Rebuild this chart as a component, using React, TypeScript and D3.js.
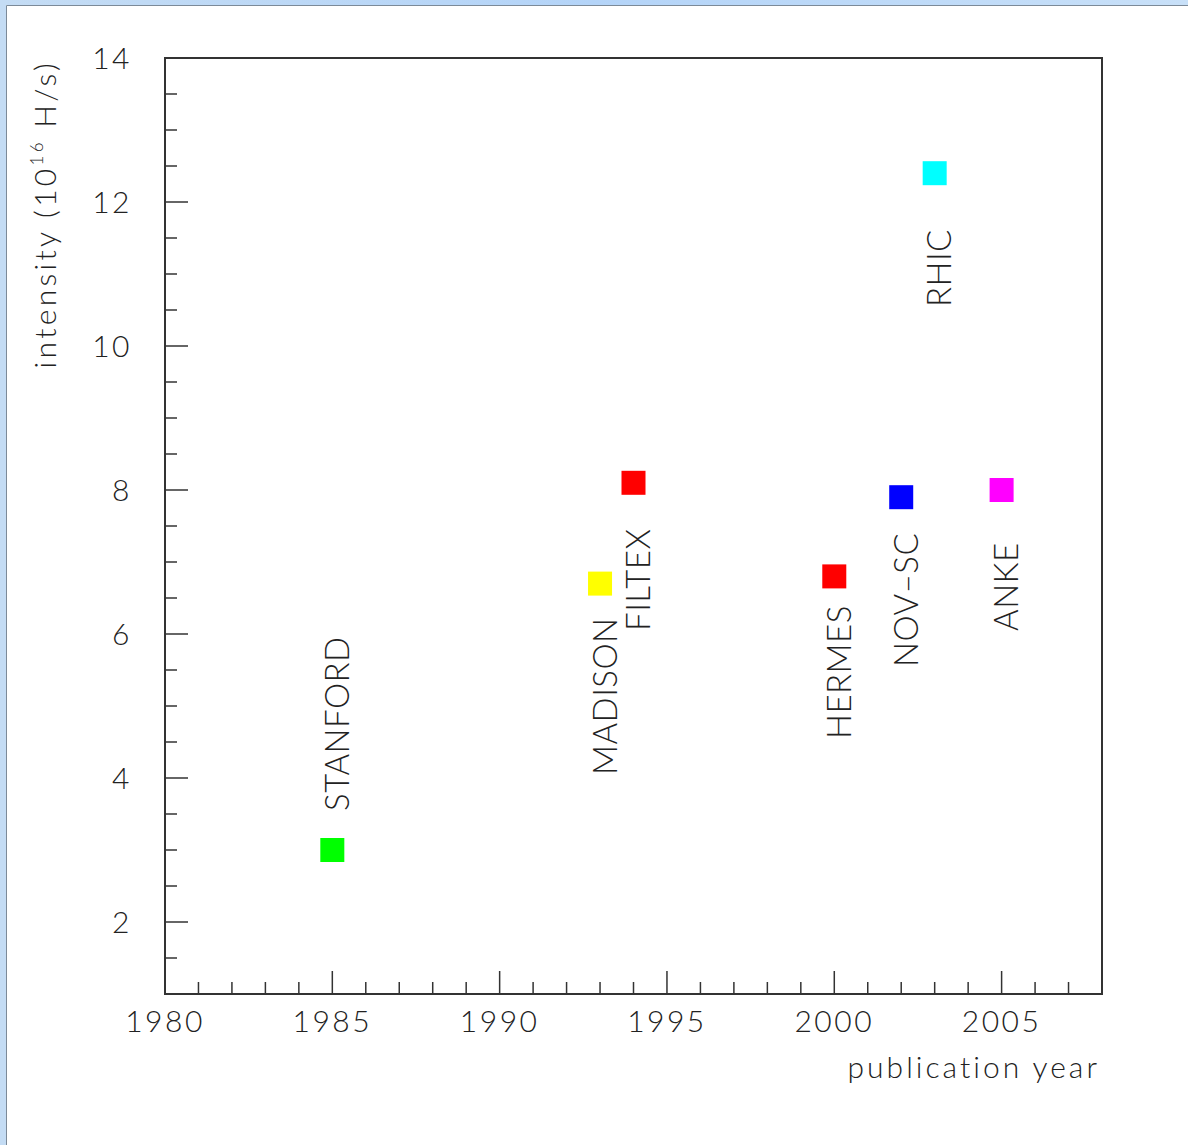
import React from "react";
import * as d3 from "d3";

const names = ["STANFORD", "MADISON", "FILTEX", "HERMES", "NOV-SC", "RHIC", "ANKE"];
const years = [1985, 1993, 1994, 2000, 2002, 2003, 2005];
const intensities = [3.0, 6.7, 8.1, 6.8, 7.9, 12.4, 8.0];
const colors = ["#00ff00", "#ffff00", "#ff0000", "#ff0000", "#0000ff", "#00ffff", "#ff00ff"];
const labelYears = [1985.5, 1993.5, 1994.5, 2000.5, 2002.5, 2003.5, 2005.5];
const labelValues = [3.5, 4.0, 6.0, 4.5, 5.5, 10.5, 6.0];
const xTickLabels = [1980, 1985, 1990, 1995, 2000, 2005];
const yTickLabels = [2, 4, 6, 8, 10, 12, 14];

const W = 1188, H = 1145;
const L = 165, R = 1102, T = 58, B = 994;
const FONT = "Lato, 'Open Sans', sans-serif";

export default function App() {
  const x = d3.scaleLinear().domain([1980, 2008]).range([L, R]);
  const y = d3.scaleLinear().domain([1, 14]).range([B, T]);
  const xMinor = d3.range(1981, 2008, 1).filter((v) => v % 5 !== 0);
  const xMajor = d3.range(1985, 2008, 5);
  const yMinor = d3.range(1.5, 14, 0.5).filter((v) => v % 2 !== 0);
  const yMajor = d3.range(2, 14.01, 2);
  const ms = 24;
  const axisColor = "#333";
  return (
    <svg width={W} height={H} style={{ position: "absolute", left: 0, top: 0, background: "#fff" }}>
      <defs>
        <linearGradient id="chromeTop" x1="0" x2="1" y1="0" y2="0">
          <stop offset="0" stopColor="#c4dcf4" />
          <stop offset="0.5" stopColor="#b4d4f8" />
          <stop offset="1" stopColor="#c8e0f8" />
        </linearGradient>
      </defs>
      <rect x={0} y={0} width={W} height={5} fill="url(#chromeTop)" />
      <rect x={0} y={0} width={6} height={H} fill="#c4dcf4" />
      <line x1={6.5} x2={W} y1={5.5} y2={5.5} stroke="#7c8a98" strokeWidth={1} />
      <line x1={6.5} x2={6.5} y1={5.5} y2={H} stroke="#7c8a98" strokeWidth={1} />

      {/* frame */}
      <rect x={L} y={T} width={R - L} height={B - T} fill="none" stroke={axisColor} strokeWidth={2} />

      {/* ticks */}
      {xMinor.map((v) => (
        <line key={"xm" + v} x1={x(v)} x2={x(v)} y1={B} y2={B - 12} stroke={axisColor} strokeWidth={1.5} />
      ))}
      {xMajor.map((v) => (
        <line key={"xM" + v} x1={x(v)} x2={x(v)} y1={B} y2={B - 23} stroke={axisColor} strokeWidth={1.5} />
      ))}
      {yMinor.map((v) => (
        <line key={"ym" + v} x1={L} x2={L + 12} y1={y(v)} y2={y(v)} stroke={axisColor} strokeWidth={1.5} />
      ))}
      {yMajor.map((v) => (
        <line key={"yM" + v} x1={L} x2={L + 23} y1={y(v)} y2={y(v)} stroke={axisColor} strokeWidth={1.5} />
      ))}

      {/* tick labels */}
      {xTickLabels.map((v) => (
        <text key={"xl" + v} x={x(v)} y={1032} textAnchor="middle" fontFamily={FONT} fontWeight={300}
          fontSize={30} letterSpacing={2.5} fill="#222">{v}</text>
      ))}
      {yTickLabels.map((v) => (
        <text key={"yl" + v} x={132} y={y(v) + 11} textAnchor="end" fontFamily={FONT} fontWeight={300}
          fontSize={30} letterSpacing={2.5} fill="#222">{v}</text>
      ))}

      {/* axis titles */}
      <text x={1100} y={1078} textAnchor="end" fontFamily={FONT} fontWeight={300} fontSize={30}
        letterSpacing={3} fill="#222">publication year</text>
      <text transform={`translate(56,60) rotate(-90)`} textAnchor="end" fontFamily={FONT} fontWeight={300}
        fontSize={30} letterSpacing={3.3} fill="#222">
        intensity (10<tspan fontSize={17} dy={-13}>16</tspan><tspan dy={13}> H/s)</tspan>
      </text>

      {/* markers */}
      {names.map((n, i) => (
        <rect key={"m" + n} x={x(years[i]) - ms / 2} y={y(intensities[i]) - ms / 2} width={ms} height={ms}
          fill={colors[i]} />
      ))}

      {/* labels */}
      {names.map((n, i) => (
        <text key={"t" + n} transform={`translate(${x(labelYears[i])},${y(labelValues[i]) - 3}) rotate(-90)`}
          fontFamily={FONT} fontWeight={300} fontSize={33} letterSpacing={0.5} fill="#222">
          {n.replace("-", "\u2013")}
        </text>
      ))}
    </svg>
  );
}
